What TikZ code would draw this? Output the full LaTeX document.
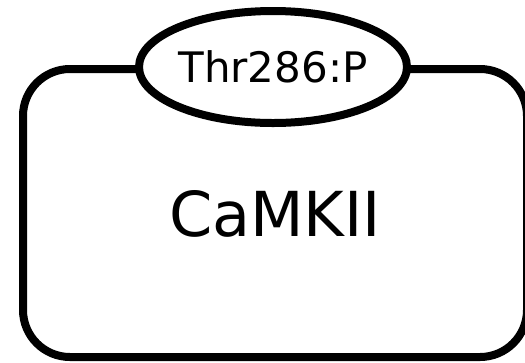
\documentclass[tikz,border=0pt]{standalone}
\usepackage{fontspec}
\setmainfont{DejaVu Sans}
\usetikzlibrary{shapes.geometric}
\begin{document}
\begin{tikzpicture}[x=1bp,y=-1bp,
  outline/.style={draw=black,line width=8bp},
  complexbox/.style={outline,rounded corners=47bp},
  sitestate/.style={outline,ellipse,fill=white,minimum width=268bp,minimum height=112bp,inner sep=0pt}]
  \useasboundingbox (0,0) rectangle (525,362);
  \clip (0,0) rectangle (525,362);
  % protein body
  \draw[complexbox] (23,69) rectangle (527,357);
  \node[font=\fontsize{62bp}{70bp}\selectfont] (camk) at (275,214) {CaMKII};
  % phosphorylation site
  \node[sitestate,font=\fontsize{42bp}{48bp}\selectfont] (thr) at (273,67) {Thr286:P};
\end{tikzpicture}
\end{document}
